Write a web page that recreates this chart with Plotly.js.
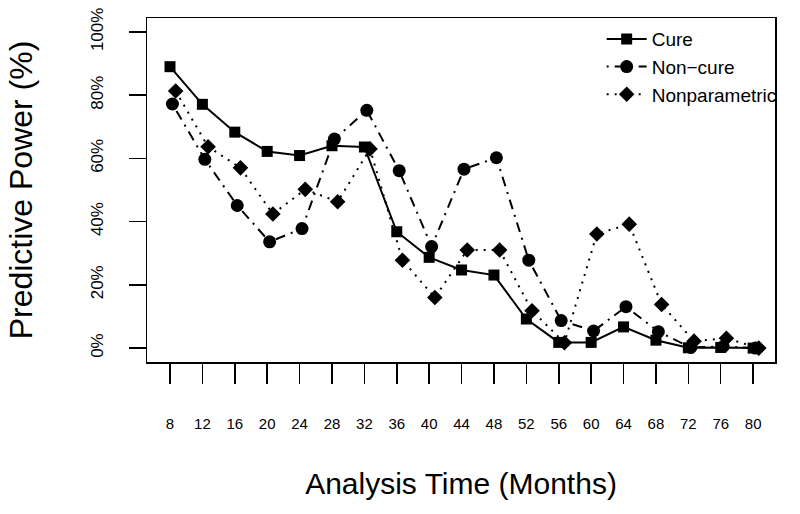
<!DOCTYPE html>
<html>
<head>
<meta charset="utf-8">
<script src="https://cdn.plot.ly/plotly-3.0.1.min.js"></script>
<style>html,body{margin:0;padding:0;background:#fff;}#chart{width:800px;height:514px;}</style>
</head>
<body>
<div id="chart"></div>
<script>
var months = [8,12,16,20,24,28,32,36,40,44,48,52,56,60,64,68,72,76,80];
var tickLabels = ["8","12","16","20","24","28","32","36","40","44","48","52","56","60","64","68","72","76","80"];
var yTickVals = [0,20,40,60,80,100];
var yTickLabels = ["0%","20%","40%","60%","80%","100%"];
var cure = [89.0,77.1,68.3,62.2,60.9,64.0,63.6,36.8,28.7,24.7,23.1,9.2,1.8,1.8,6.7,2.5,0.1,0.2,0.0];
var nonCure = [77.2,59.7,45.1,33.6,37.8,66.1,75.2,56.1,32.1,56.6,60.2,27.8,8.7,5.4,13.1,5.2,0.2,0.5,0.0];
var nonParametric = [81.3,63.7,57.0,42.4,50.2,46.3,63.0,27.8,16.0,31.0,31.0,11.8,1.7,36.1,39.2,13.8,2.2,3.1,0.0];
var seriesNames = ["Cure","Non\u2212cure","Nonparametric"];

var FONT = "Liberation Sans, Arial, sans-serif";
function shift(arr, d){ return arr.map(function(v){ return v + d; }); }

var traces = [
  {x: months, y: cure, name: seriesNames[0], mode: "lines+markers",
   line: {color: "#000", width: 2, dash: "solid"},
   marker: {symbol: "square", size: 11, color: "#000"}},
  {x: shift(months, 0.3), y: nonCure, name: seriesNames[1], mode: "lines+markers",
   line: {color: "#000", width: 2, dash: "2px,6px,10px,6px"},
   marker: {symbol: "circle", size: 13, color: "#000"}},
  {x: shift(months, 0.7), y: nonParametric, name: seriesNames[2], mode: "lines+markers",
   line: {color: "#000", width: 2, dash: "2px,6px"},
   marker: {symbol: "diamond", size: 12, color: "#000"}}
];

var layout = {
  width: 800, height: 514,
  margin: {l: 147, r: 25, t: 18, b: 152},
  paper_bgcolor: "#fff", plot_bgcolor: "#fff",
  font: {family: FONT, color: "#000"},
  showlegend: true,
  legend: {x: 0.724, y: 0.994, xanchor: "left", yanchor: "top", bgcolor: "rgba(0,0,0,0)",
           font: {size: 19, family: FONT, color: "#000"}, tracegroupgap: 0, itemwidth: 40},
  xaxis: {
    range: [5.16, 82.7], tickvals: months, ticktext: tickLabels,
    showgrid: false, zeroline: false, showline: true, linecolor: "#000", linewidth: 1.5, mirror: true,
    ticks: "outside", ticklen: 20, tickwidth: 1.5, tickcolor: "#000",
    tickfont: {size: 15, family: FONT}, ticklabelstandoff: 27,
    title: {text: "Analysis Time (Months)", font: {size: 30, family: FONT}, standoff: 42}
  },
  yaxis: {
    range: [-4.4, 104.4], tickvals: yTickVals, ticktext: yTickLabels,
    showgrid: false, zeroline: false, showline: true, linecolor: "#000", linewidth: 1.5, mirror: true,
    ticks: "outside", ticklen: 17, tickwidth: 1.5, tickcolor: "#000", tickangle: -90,
    tickfont: {size: 17, family: FONT}, ticklabelstandoff: 19,
    title: {text: "Predictive Power (%)", font: {size: 32, family: FONT}, standoff: 45}
  }
};

Plotly.newPlot("chart", traces, layout, {displayModeBar: false, staticPlot: true});
</script>
</body>
</html>
